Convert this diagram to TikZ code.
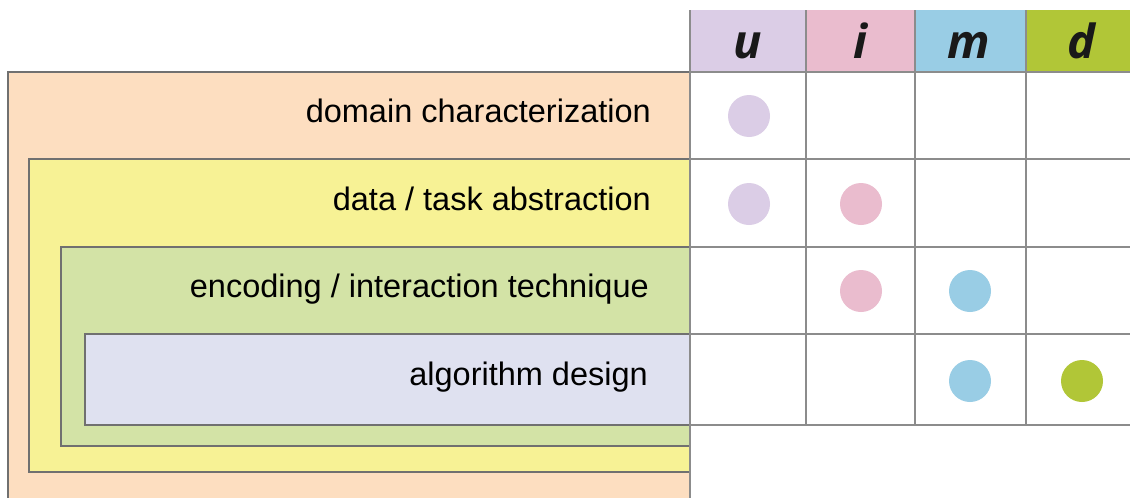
\documentclass[tikz,border=0pt]{standalone}
\usepackage{fontspec}
\setmainfont{Liberation Sans}
\newfontfamily\hdrfont{Open Sans}
\definecolor{cU}{HTML}{DBCDE6}
\definecolor{cI}{HTML}{EABCCE}
\definecolor{cM}{HTML}{99CDE5}
\definecolor{cD}{HTML}{B1C637}
\definecolor{bOr}{HTML}{FDDEC0}
\definecolor{bYe}{HTML}{F7F295}
\definecolor{bGr}{HTML}{D3E3A6}
\definecolor{bBl}{HTML}{DFE1F0}
\definecolor{edge}{HTML}{707070}
\definecolor{grid}{HTML}{8C8C8C}
\tikzset{
  lvlbox/.style={draw=edge, line width=2pt},
  gridline/.style={draw=grid, line width=2pt},
  lvltext/.style={anchor=base east, inner sep=0pt, font=\fontsize{32.5}{36}\selectfont},
  hdr/.style={anchor=base, inner sep=0pt, font=\hdrfont\bfseries\itshape\fontsize{47}{50}\selectfont, text=black!90},
  dot/.style={circle, minimum size=42pt, inner sep=0pt}
}
\begin{document}
\begin{tikzpicture}[x=1pt,y=-1pt]
\useasboundingbox (0,0) rectangle (1130,498);
\fill[white] (0,0) rectangle (1130,498);
% nested level boxes
\filldraw[lvlbox, fill=bOr] (8,510) -- (8,72) -- (690,72) -- (690,510);
\filldraw[lvlbox, fill=bYe] (29,159) rectangle (690,472);
\filldraw[lvlbox, fill=bGr] (61,247) rectangle (690,446);
\filldraw[lvlbox, fill=bBl] (85,334) rectangle (690,425);
% header cells
\fill[cU] (690,10) rectangle (806,72);
\fill[cI] (806,10) rectangle (915,72);
\fill[cM] (915,10) rectangle (1026,72);
\fill[cD] (1026,10) rectangle (1135,72);
% grid
\foreach \yy in {72,159,247,334,425} \draw[gridline] (690,\yy) -- (1135,\yy);
\foreach \xx in {806,915,1026} \draw[gridline] (\xx,10) -- (\xx,425);
\draw[gridline] (690,10) -- (690,510);
% header letters
\node[hdr] (hu) at (748,58) {u};
\node[hdr] (hi) at (860,58) {i};
\node[hdr] (hm) at (969,58) {m};
\node[hdr] (hd) at (1081,58) {d};
% level texts
\node[lvltext] (t1) at (651,122.5) {domain characterization};
\node[lvltext] (t2) at (651,210) {data / task abstraction};
\node[lvltext] (t3) at (649,297.5) {encoding / interaction technique};
\node[lvltext] (t4) at (648,385) {algorithm design};
% dots
\node[dot, fill=cU] (d1u) at (749,116) {};
\node[dot, fill=cU] (d2u) at (749,204) {};
\node[dot, fill=cI] (d2i) at (861,204) {};
\node[dot, fill=cI] (d3i) at (861,291) {};
\node[dot, fill=cM] (d3m) at (970,291) {};
\node[dot, fill=cM] (d4m) at (970,381) {};
\node[dot, fill=cD] (d4d) at (1082,381) {};
\end{tikzpicture}
\end{document}
